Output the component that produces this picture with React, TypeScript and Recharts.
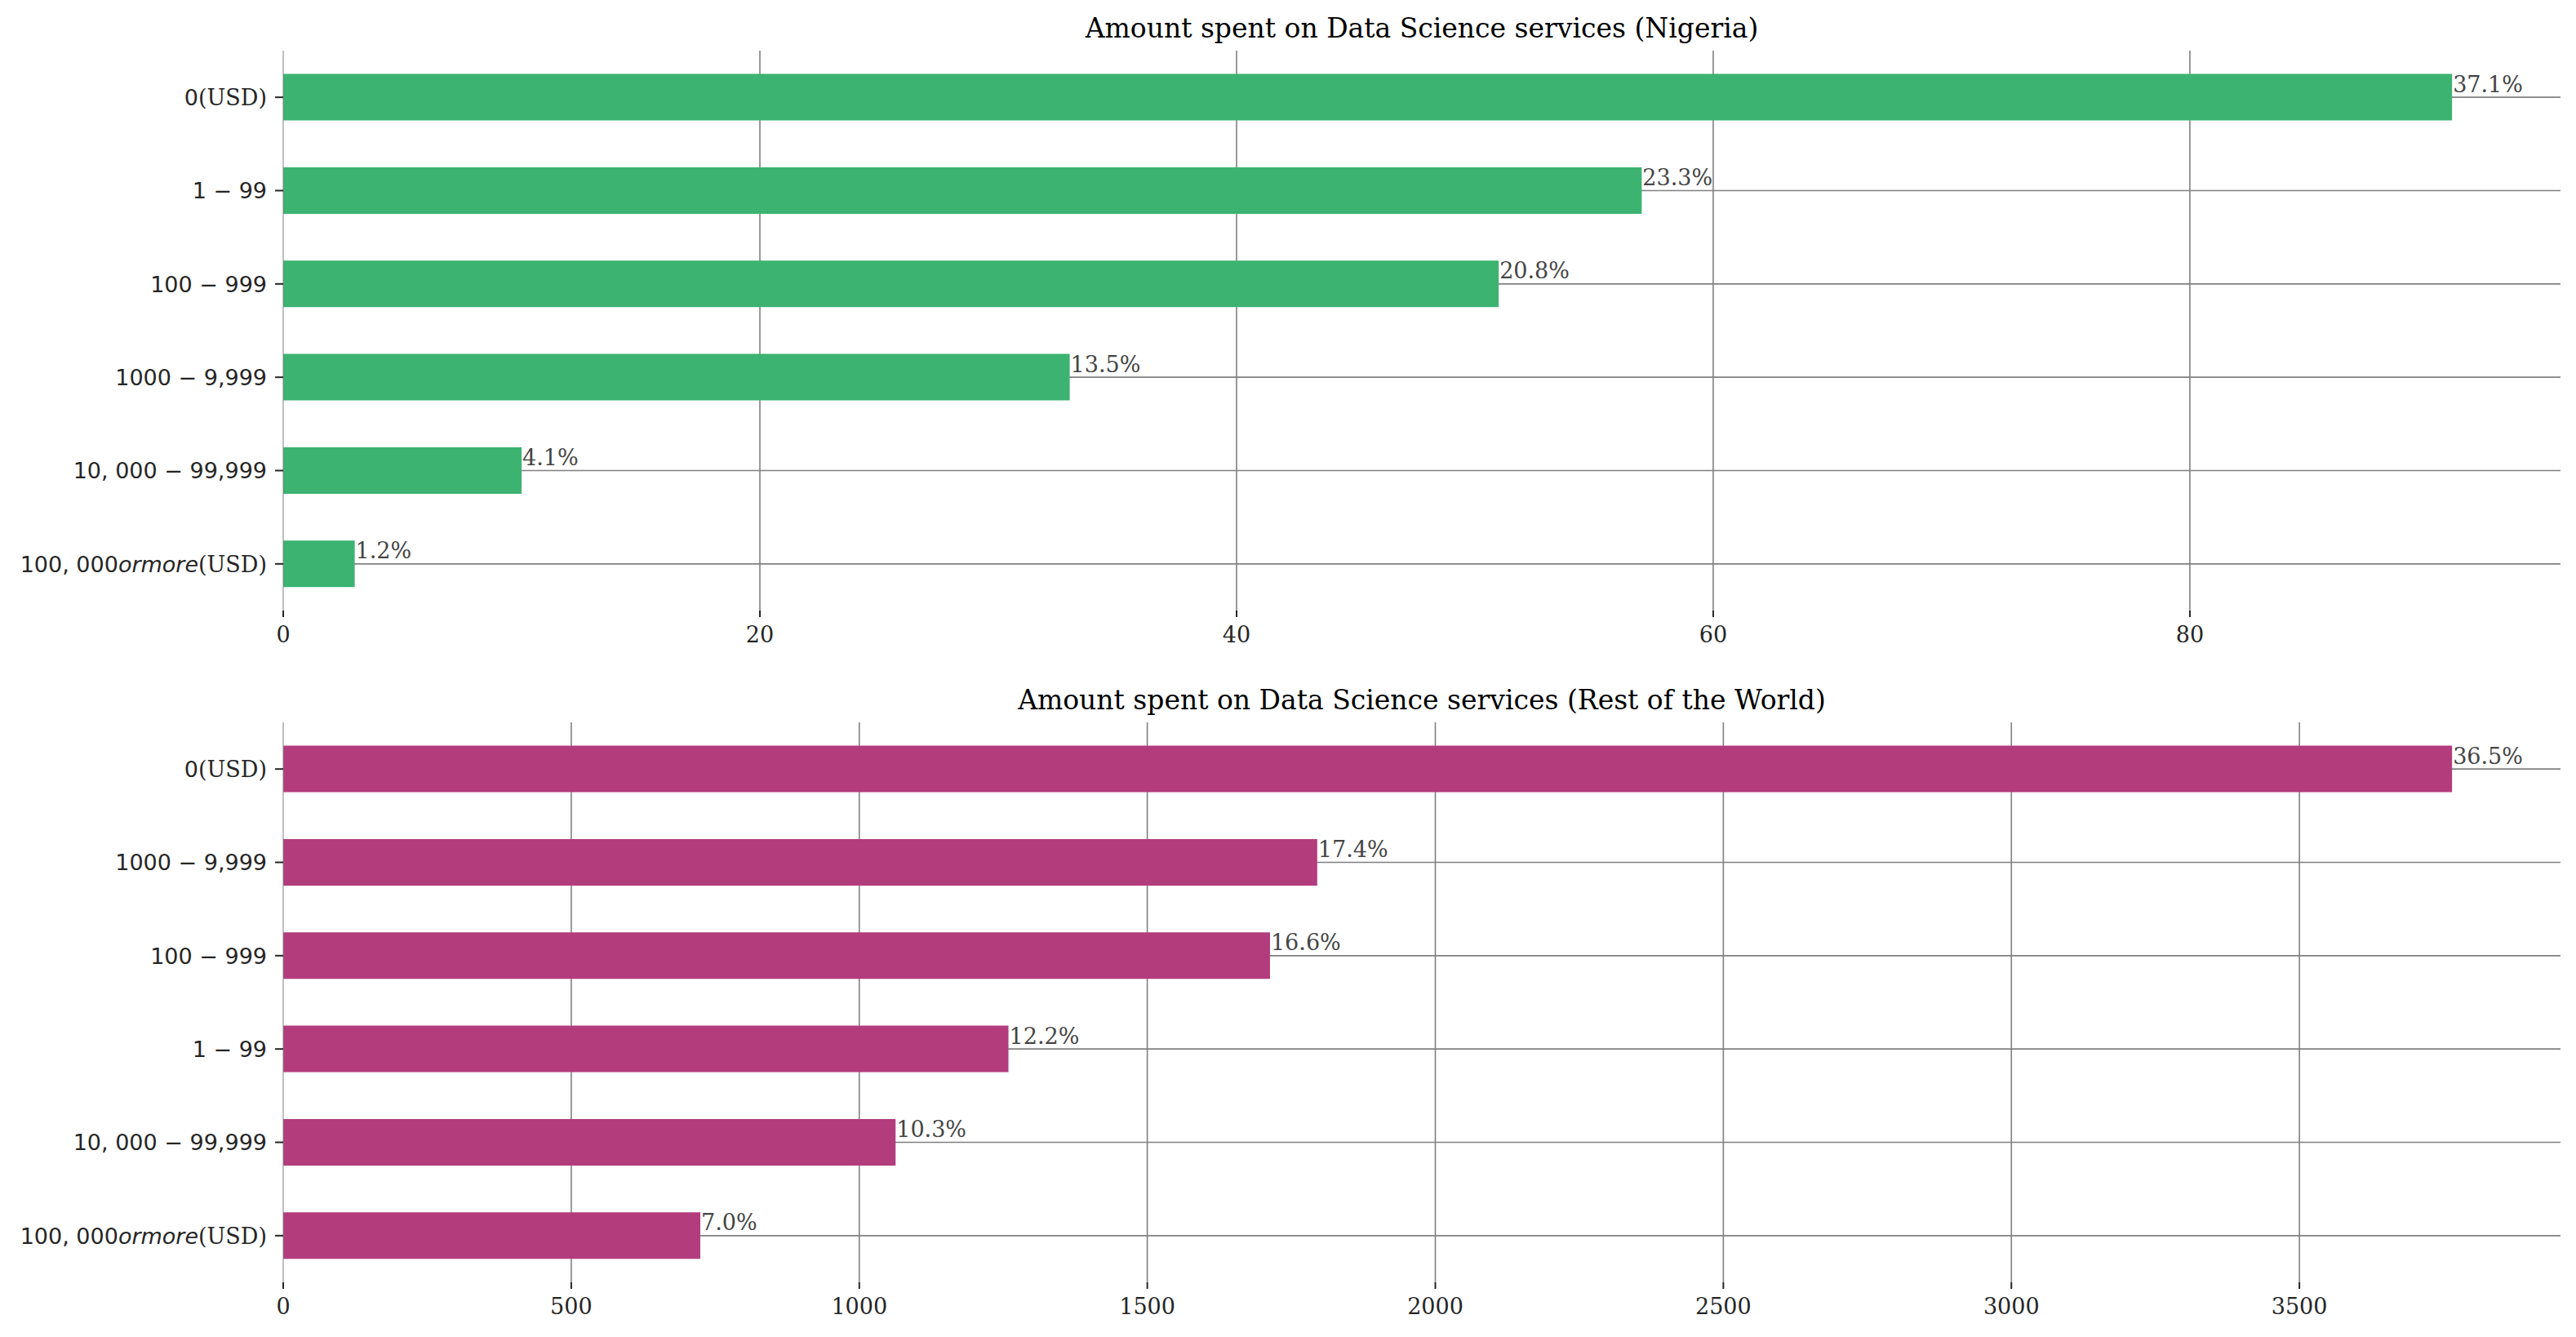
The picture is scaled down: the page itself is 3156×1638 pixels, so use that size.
import React from 'react'
import { BarChart, Bar, XAxis, YAxis, CartesianGrid, LabelList } from 'recharts'

const nigeriaCategories = ['0(USD)', '1 − 99', '100 − 999', '1000 − 9,999', '10, 000 − 99,999', '100, 000ormore(USD)']
const nigeriaCounts = [91, 57, 51, 33, 10, 3]
const nigeriaPercents = ['37.1%', '23.3%', '20.8%', '13.5%', '4.1%', '1.2%']
const nigeriaTicks = [0, 20, 40, 60, 80]

const worldCategories = ['0(USD)', '1000 − 9,999', '100 − 999', '1 − 99', '10, 000 − 99,999', '100, 000ormore(USD)']
const worldCounts = [3765, 1795, 1713, 1259, 1063, 724]
const worldPercents = ['36.5%', '17.4%', '16.6%', '12.2%', '10.3%', '7.0%']
const worldTicks = [0, 500, 1000, 1500, 2000, 2500, 3000, 3500]

const SERIF = "'DejaVu Serif', serif"
const SANS = "'DejaVu Sans', sans-serif"
const W = 3156
const H = 815

// tick labels mimic matplotlib mathtext: sans digits, italic words, serif "(USD)"
const MathTick = ({ x, y, payload }: any) => {
  const parts = String(payload.value).split(/(\(USD\)|ormore)/).filter(Boolean)
  return (
    <text x={x} y={y} dy="0.36em" textAnchor="end" fontSize={27} fill="#262626">
      {parts.map((p, i) => (
        <tspan
          key={i}
          fontFamily={p === '(USD)' ? SERIF : SANS}
          fontStyle={p === 'ormore' ? 'italic' : 'normal'}
        >{p}</tspan>
      ))}
    </text>
  )
}

function SpendChart({ title, categories, counts, percents, ticks, color, top }: any) {
  const data = categories.map((name: string, i: number) => ({ name, count: counts[i], pct: percents[i] }))
  const max = Math.max(...counts) * 1.05
  return (
    <div style={{ position: 'absolute', left: 0, top, width: W, height: H }}>
      <BarChart
        width={W} height={H} data={data} layout="vertical"
        margin={{ top: 62, right: 19, bottom: 0, left: 0 }}
        barCategoryGap="25%"
      >
        <CartesianGrid
          stroke="#808080" strokeWidth={1.6} syncWithTicks
          verticalValues={ticks.filter((t: number) => t > 0)}
        />
        <XAxis
          type="number" domain={[0, max]} ticks={ticks} interval={0}
          axisLine={false} height={67}
          tickSize={8} tickMargin={12}
          tickLine={{ stroke: '#262626', strokeWidth: 2 }}
          tick={{ fill: '#262626', fontSize: 27, fontFamily: SERIF }}
        />
        <YAxis
          type="category" dataKey="name" width={347} interval={0}
          axisLine={{ stroke: '#808080', strokeWidth: 1 }}
          tickSize={10} tickMargin={10}
          tickLine={{ stroke: '#262626', strokeWidth: 2 }}
          tick={<MathTick />}
        />
        <Bar dataKey="count" fill={color} isAnimationActive={false}>
          <LabelList
            dataKey="pct"
            content={(p: any) => (
              <text
                x={p.x + p.width + 1} y={p.y + p.height / 2 - 6.5}
                fontSize={27} fontFamily={SERIF} fill="#454545"
              >{p.value}</text>
            )}
          />
        </Bar>
      </BarChart>
      <svg width={W} height={70} style={{ position: 'absolute', left: 0, top: 0, pointerEvents: 'none' }}>
        <text x={1742} y={46} textAnchor="middle" fontSize={33} fontFamily={SERIF} fill="#000">{title}</text>
      </svg>
    </div>
  )
}

export default function App() {
  return (
    <div style={{ position: 'absolute', left: 0, top: 0, width: W, height: 1638, background: '#fff' }}>
      <SpendChart
        title="Amount spent on Data Science services (Nigeria)"
        categories={nigeriaCategories} counts={nigeriaCounts} percents={nigeriaPercents}
        ticks={nigeriaTicks} color="#3cb371" top={0}
      />
      <SpendChart
        title="Amount spent on Data Science services (Rest of the World)"
        categories={worldCategories} counts={worldCounts} percents={worldPercents}
        ticks={worldTicks} color="#b33c7d" top={823}
      />
    </div>
  )
}
